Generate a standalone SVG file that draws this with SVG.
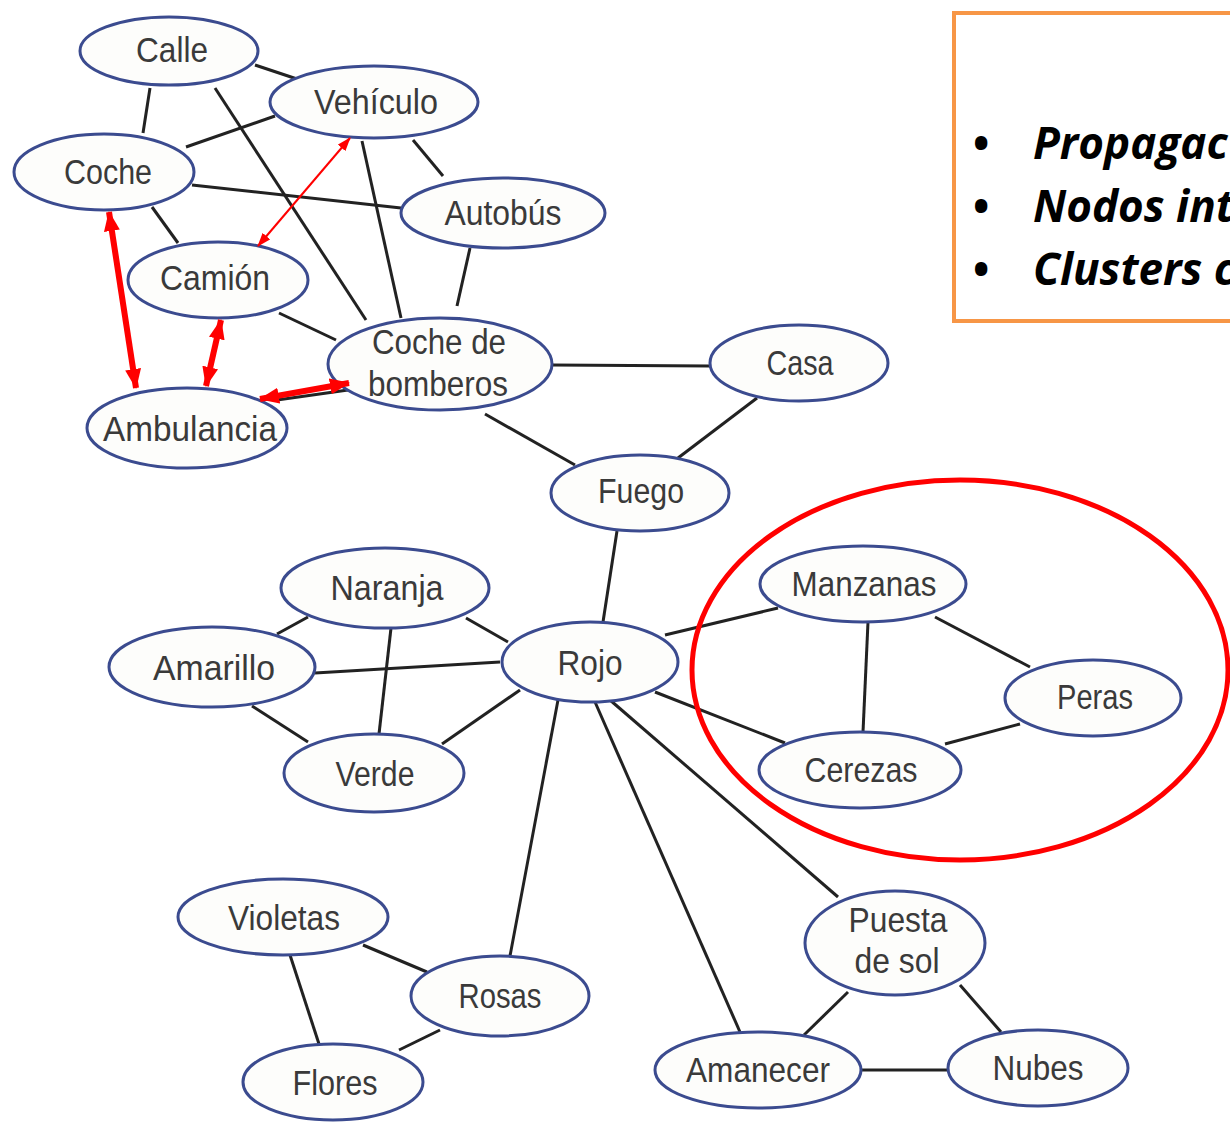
<svg xmlns="http://www.w3.org/2000/svg" width="1230" height="1123" viewBox="0 0 1230 1123">
<defs>
<style>
.n ellipse{fill:#fdfdfb;stroke:#3b4b8f;stroke-width:3}
.n text{font-family:"Liberation Sans Narrow","Liberation Sans",Arial,sans-serif;font-size:35px;fill:#3a3a3a;text-anchor:middle}
.e line{stroke:#222;stroke-width:3}
.r{stroke:#f00;fill:none}
.b{font-family:"Open Sans","Noto Sans",sans-serif;font-weight:bold;font-style:italic;font-size:44px;fill:#000}
</style>
<marker id="ahT" viewBox="0 0 20 16" refX="19" refY="8" markerWidth="20" markerHeight="16" markerUnits="userSpaceOnUse" orient="auto-start-reverse"><path d="M0,0 L20,8 L0,16 z" fill="#f00"/></marker>
<marker id="aht" viewBox="0 0 14 10" refX="13" refY="5" markerWidth="14" markerHeight="10" markerUnits="userSpaceOnUse" orient="auto-start-reverse"><path d="M0,0 L14,5 L0,10 z" fill="#f00"/></marker>
</defs>
<rect width="1230" height="1123" fill="#fff"/>
<g id="box">
<rect x="954" y="13" width="300" height="308" fill="#fff" stroke="#f79646" stroke-width="4"/>
<text class="b" x="972" y="159">•</text><text class="b" x="1033" y="159">Propagac</text>
<text class="b" x="972" y="222">•</text><text class="b" x="1033" y="222">Nodos int</text>
<text class="b" x="972" y="285">•</text><text class="b" x="1033" y="285">Clusters c</text>
</g>
<g id="connectors" class="e">
<line x1="255" y1="65" x2="300" y2="80"/>
<line x1="150" y1="88" x2="143" y2="133"/>
<line x1="215" y1="88" x2="366" y2="320"/>
<line x1="186" y1="147" x2="275" y2="116"/>
<line x1="192" y1="185" x2="401" y2="208"/>
<line x1="152" y1="207" x2="178" y2="243"/>
<line x1="413" y1="140" x2="443" y2="176"/>
<line x1="362" y1="141" x2="401" y2="318"/>
<line x1="470" y1="248" x2="457" y2="306"/>
<line x1="279" y1="313" x2="336" y2="340"/>
<line x1="277" y1="400" x2="348" y2="390"/>
<line x1="552" y1="365" x2="710" y2="366"/>
<line x1="485" y1="414" x2="575" y2="465"/>
<line x1="757" y1="398" x2="678" y2="458"/>
<line x1="617" y1="531" x2="603" y2="622"/>
<line x1="466" y1="618" x2="508" y2="642"/>
<line x1="308" y1="617" x2="277" y2="634"/>
<line x1="315" y1="673" x2="500" y2="662"/>
<line x1="391" y1="628" x2="379" y2="734"/>
<line x1="252" y1="706" x2="308" y2="742"/>
<line x1="520" y1="690" x2="442" y2="744"/>
<line x1="558" y1="700" x2="510" y2="956"/>
<line x1="595" y1="702" x2="740" y2="1032"/>
<line x1="610" y1="700" x2="838" y2="897"/>
<line x1="665" y1="635" x2="778" y2="608"/>
<line x1="655" y1="692" x2="785" y2="743"/>
<line x1="868" y1="622" x2="863" y2="732"/>
<line x1="935" y1="617" x2="1030" y2="667"/>
<line x1="945" y1="744" x2="1020" y2="724"/>
<line x1="363" y1="945" x2="427" y2="972"/>
<line x1="290" y1="955" x2="319" y2="1044"/>
<line x1="440" y1="1030" x2="399" y2="1050"/>
<line x1="848" y1="992" x2="804" y2="1035"/>
<line x1="960" y1="985" x2="1001" y2="1032"/>
<line x1="861" y1="1070" x2="948" y2="1070"/>
</g>
<g id="n-calle" class="n"><ellipse cx="169" cy="51" rx="89" ry="34"/><text x="172" y="62" textLength="72" lengthAdjust="spacingAndGlyphs">Calle</text></g>
<g id="n-vehiculo" class="n"><ellipse cx="374" cy="102" rx="104" ry="36"/><text x="376" y="114" textLength="124" lengthAdjust="spacingAndGlyphs">Vehículo</text></g>
<g id="n-coche" class="n"><ellipse cx="104" cy="172" rx="90" ry="38"/><text x="108" y="184" textLength="88" lengthAdjust="spacingAndGlyphs">Coche</text></g>
<g id="n-autobus" class="n"><ellipse cx="503" cy="213" rx="102" ry="35"/><text x="503" y="225" textLength="117" lengthAdjust="spacingAndGlyphs">Autobús</text></g>
<g id="n-camion" class="n"><ellipse cx="218" cy="280" rx="90" ry="38"/><text x="215" y="290" textLength="110" lengthAdjust="spacingAndGlyphs">Camión</text></g>
<g id="n-bomberos" class="n"><ellipse cx="440" cy="364" rx="112" ry="46"/><text x="439" y="354" textLength="134" lengthAdjust="spacingAndGlyphs">Coche de</text><text x="438" y="396" textLength="140" lengthAdjust="spacingAndGlyphs">bomberos</text></g>
<g id="n-ambulancia" class="n"><ellipse cx="187" cy="428" rx="100" ry="40"/><text x="190" y="441" textLength="174" lengthAdjust="spacingAndGlyphs">Ambulancia</text></g>
<g id="n-casa" class="n"><ellipse cx="799" cy="363" rx="89" ry="38"/><text x="800" y="375" textLength="67" lengthAdjust="spacingAndGlyphs">Casa</text></g>
<g id="n-fuego" class="n"><ellipse cx="640" cy="493" rx="89" ry="38"/><text x="641" y="503" textLength="86" lengthAdjust="spacingAndGlyphs">Fuego</text></g>
<g id="n-naranja" class="n"><ellipse cx="385" cy="588" rx="104" ry="40"/><text x="387" y="600" textLength="113" lengthAdjust="spacingAndGlyphs">Naranja</text></g>
<g id="n-amarillo" class="n"><ellipse cx="212" cy="667" rx="103" ry="40"/><text x="214" y="680" textLength="122" lengthAdjust="spacingAndGlyphs">Amarillo</text></g>
<g id="n-rojo" class="n"><ellipse cx="590" cy="662" rx="88" ry="40"/><text x="590" y="675" textLength="65" lengthAdjust="spacingAndGlyphs">Rojo</text></g>
<g id="n-verde" class="n"><ellipse cx="374" cy="773" rx="90" ry="39"/><text x="375" y="786" textLength="79" lengthAdjust="spacingAndGlyphs">Verde</text></g>
<g id="n-manzanas" class="n"><ellipse cx="863" cy="584" rx="103" ry="38"/><text x="864" y="596" textLength="145" lengthAdjust="spacingAndGlyphs">Manzanas</text></g>
<g id="n-peras" class="n"><ellipse cx="1093" cy="698" rx="88" ry="38"/><text x="1095" y="709" textLength="76" lengthAdjust="spacingAndGlyphs">Peras</text></g>
<g id="n-cerezas" class="n"><ellipse cx="860" cy="770" rx="101" ry="38"/><text x="861" y="782" textLength="113" lengthAdjust="spacingAndGlyphs">Cerezas</text></g>
<g id="n-violetas" class="n"><ellipse cx="283" cy="917" rx="105" ry="38"/><text x="284" y="930" textLength="112" lengthAdjust="spacingAndGlyphs">Violetas</text></g>
<g id="n-rosas" class="n"><ellipse cx="500" cy="996" rx="89" ry="40"/><text x="500" y="1008" textLength="83" lengthAdjust="spacingAndGlyphs">Rosas</text></g>
<g id="n-flores" class="n"><ellipse cx="333" cy="1082" rx="90" ry="38"/><text x="335" y="1095" textLength="85" lengthAdjust="spacingAndGlyphs">Flores</text></g>
<g id="n-puesta" class="n"><ellipse cx="895" cy="943" rx="90" ry="52"/><text x="898" y="932" textLength="99" lengthAdjust="spacingAndGlyphs">Puesta</text><text x="897" y="973" textLength="85" lengthAdjust="spacingAndGlyphs">de sol</text></g>
<g id="n-amanecer" class="n"><ellipse cx="758" cy="1070" rx="103" ry="38"/><text x="758" y="1082" textLength="144" lengthAdjust="spacingAndGlyphs">Amanecer</text></g>
<g id="n-nubes" class="n"><ellipse cx="1038" cy="1068" rx="90" ry="38"/><text x="1038" y="1080" textLength="91" lengthAdjust="spacingAndGlyphs">Nubes</text></g>
<g id="highlights">
<ellipse class="r" cx="960" cy="670" rx="268" ry="190" stroke-width="5"/>
<line class="r" x1="350" y1="138" x2="258" y2="246" stroke-width="2" marker-start="url(#aht)" marker-end="url(#aht)"/>
<line class="r" x1="109" y1="212" x2="136" y2="388" stroke-width="6" marker-start="url(#ahT)" marker-end="url(#ahT)"/>
<line class="r" x1="221" y1="320" x2="206" y2="386" stroke-width="6" marker-start="url(#ahT)" marker-end="url(#ahT)"/>
<line class="r" x1="260" y1="399" x2="349" y2="383" stroke-width="6" marker-start="url(#ahT)" marker-end="url(#ahT)"/>
</g>
</svg>
